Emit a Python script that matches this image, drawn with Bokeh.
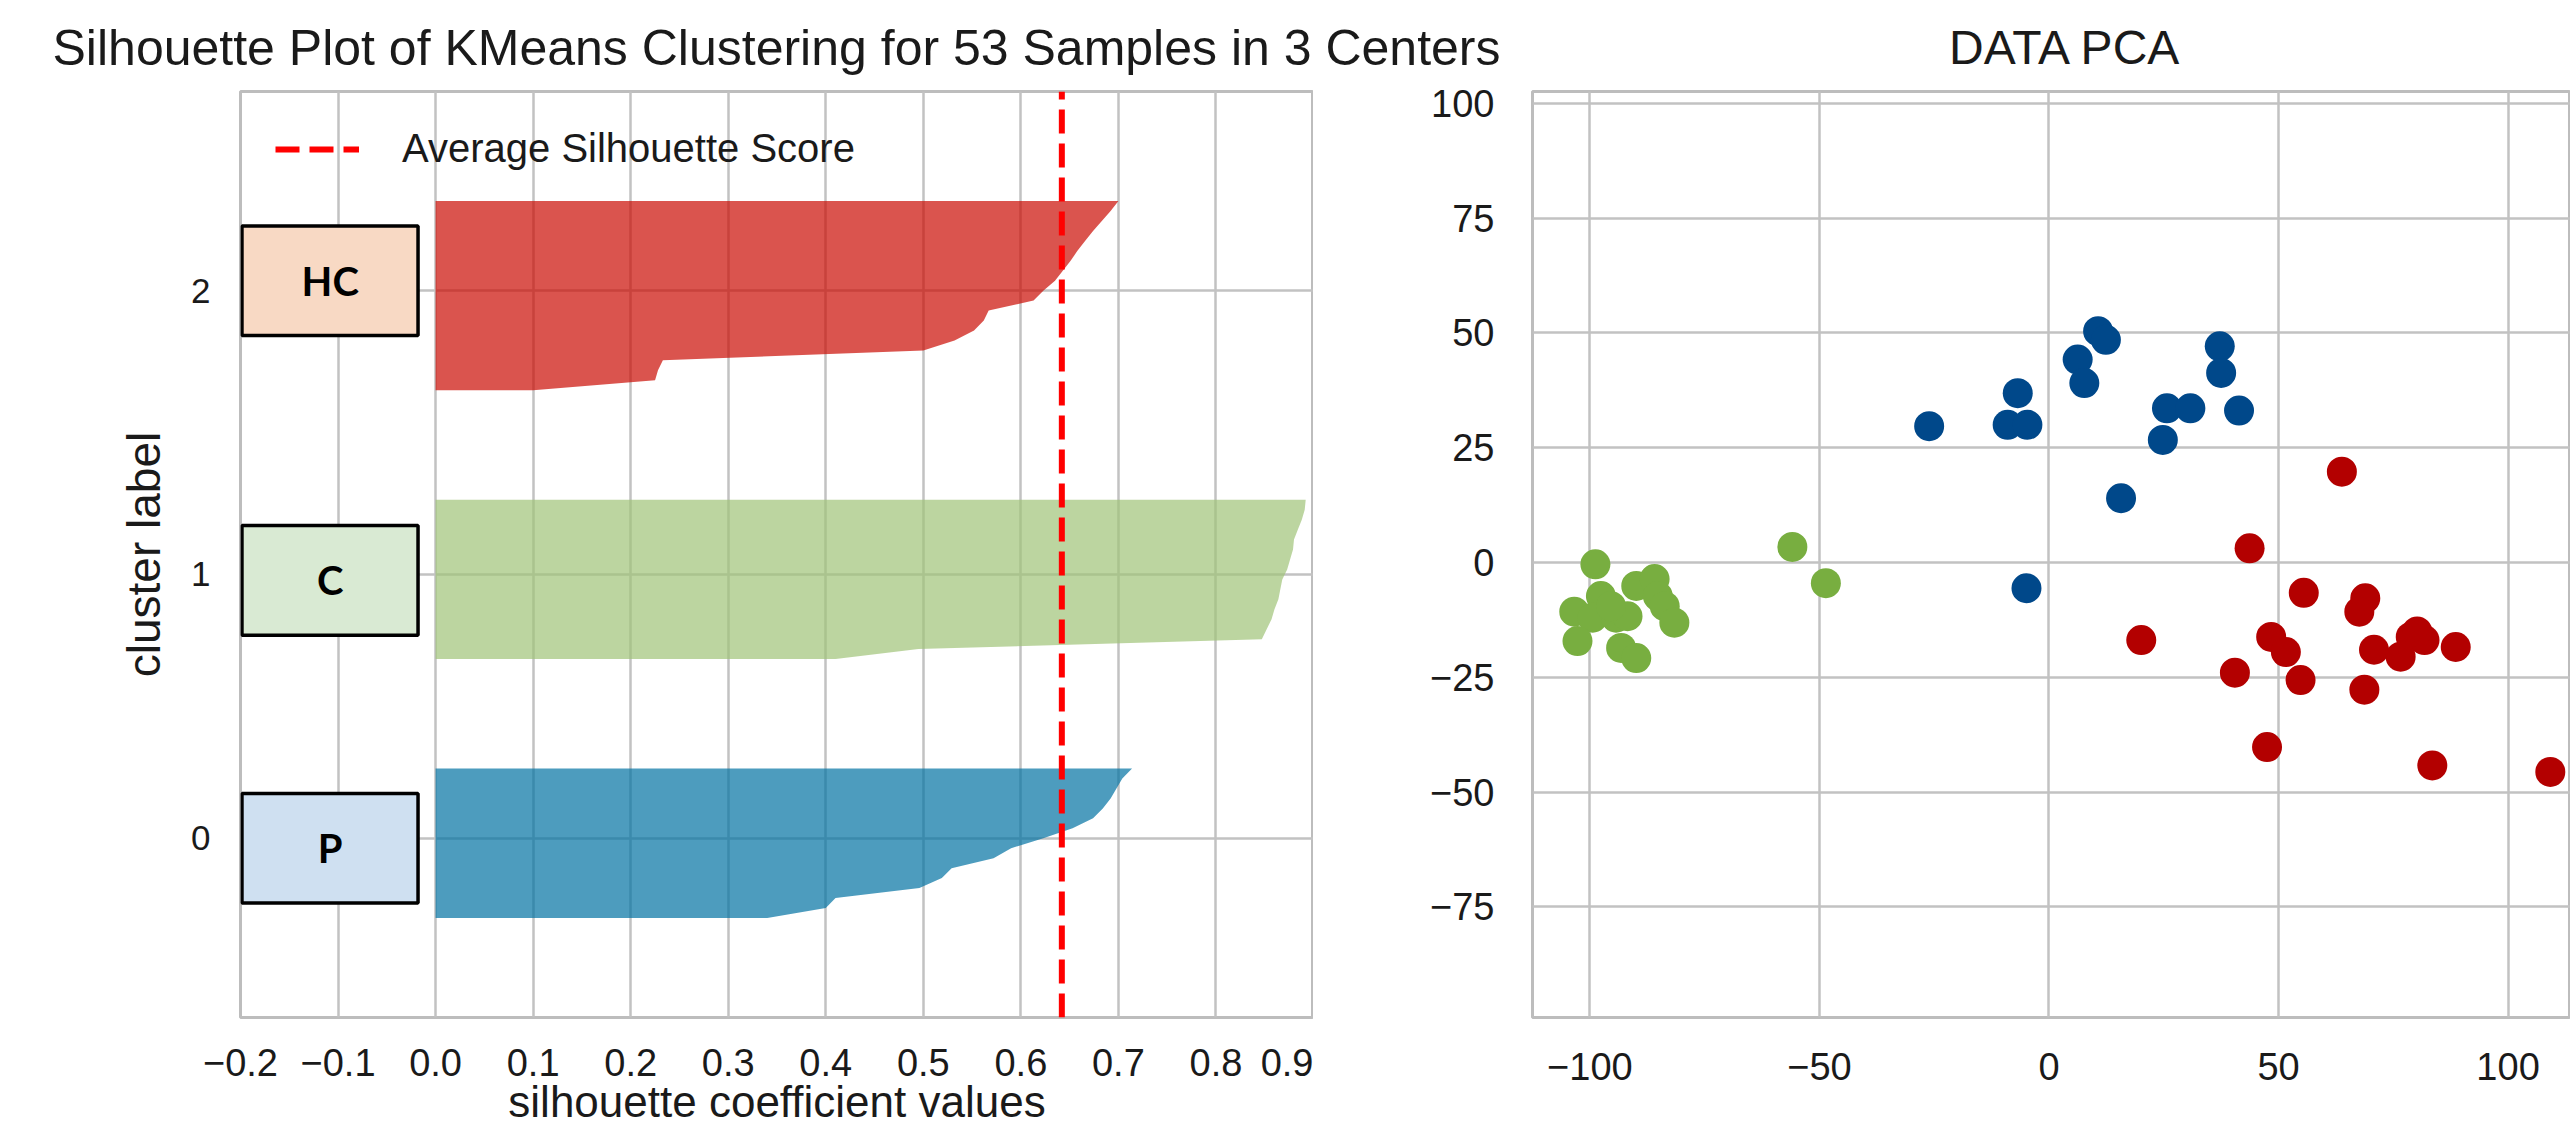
from bokeh.plotting import figure
from bokeh.models import Range1d, FixedTicker, CustomJSTickFormatter, Label
from bokeh.layouts import row, column
from bokeh.embed import file_html
from bokeh.resources import INLINE
from bokeh.core.properties import value

# ---------------- data ----------------
title_left = "Silhouette Plot of KMeans Clustering for 53 Samples in 3 Centers"
title_right = "DATA PCA"
cluster_labels = ["0", "1", "2"]
cluster_names = ["P", "C", "HC"]

# silhouette coefficients per cluster, sorted ascending
sil_cluster0 = [0.34, 0.40, 0.41, 0.496, 0.519, 0.529, 0.572, 0.59, 0.623, 0.653,
                0.674, 0.684, 0.692, 0.698, 0.704, 0.714]
sil_cluster1 = [0.41, 0.495, 0.847, 0.852, 0.857, 0.86, 0.864, 0.866, 0.868, 0.873,
                0.876, 0.879, 0.88, 0.884, 0.888, 0.891, 0.892]
sil_cluster2 = [0.10, 0.225, 0.228, 0.233, 0.50, 0.532, 0.552, 0.562, 0.567, 0.613,
                0.623, 0.635, 0.643, 0.651, 0.658, 0.666, 0.674, 0.683, 0.692, 0.70]
avg_score = 0.642

left_x_ticks = [-0.2, -0.1, 0.0, 0.1, 0.2, 0.3, 0.4, 0.5, 0.6, 0.7, 0.8, 0.9]
right_x_ticks = [-100, -50, 0, 50, 100]
right_y_ticks = [-75, -50, -25, 0, 25, 50, 75, 100]

# PCA projection
pca0_x = [10.7, 12.4, 6.25, 7.7, -6.8, -9.0, -4.7, 37.2, 37.5, 25.7, 30.8, 41.4, 24.8, 15.7, -4.9, -26.1]
pca0_y = [50.4, 48.5, 44.2, 39.1, 36.9, 30.0, 30.0, 47.1, 41.3, 33.6, 33.6, 33.1, 26.7, 14.0, -5.6, 29.7]
pca1_x = [-55.9, -48.6, -98.8, -97.6, -103.4, -99.4, -94.3, -91.8, -89.9, -85.9, -85.2, -83.7,
          -81.6, -102.7, -93.2, -89.9, -95.4]
pca1_y = [3.4, -4.5, -0.4, -7.3, -10.7, -12.0, -12.0, -11.7, -5.1, -3.6, -7.3, -9.5,
          -13.1, -17.1, -18.6, -20.8, -9.5]
pca2_x = [63.8, 43.7, 55.5, 68.9, 67.6, 20.1, 48.4, 51.6, 40.5, 54.8, 68.7, 70.8, 76.6, 78.8,
          81.8, 88.6, 47.5, 83.5, 109.2, 80.2]
pca2_y = [19.8, 3.1, -6.6, -7.8, -10.7, -16.9, -16.2, -19.5, -24.0, -25.6, -27.7, -19.0, -20.5,
          -16.2, -16.9, -18.4, -40.2, -44.2, -45.6, -15.0]

# ---------------- style ----------------
FONT = "Liberation Sans"
TXT = "#1a1a1a"
GRID = "#c2c2c2"
sil_colors = ["#0272a2", "#9fc377", "#ca0b03"]
box_colors = ["#cfe0f1", "#d9ead3", "#f8d9c4"]
box_dy = [-1.0, -0.6, 1.0]
pca_colors = ["#00488a", "#78ae40", "#b30000"]

TOTAL_W = 2570
TITLE_H = 79
PLOT_H = 1054
LEFT_W = 1313


def style_axes(p, tick_size):
    for ax in (p.xaxis, p.yaxis):
        ax.axis_line_color = None
        ax.major_tick_line_color = None
        ax.minor_tick_line_color = None
        ax.major_tick_out = 0
        ax.major_tick_in = 0
        ax.minor_tick_out = 0
        ax.minor_tick_in = 0
        ax.major_label_text_font = FONT
        ax.major_label_text_font_size = tick_size
        ax.major_label_text_color = TXT
        ax.axis_label_text_font = FONT
        ax.axis_label_text_font_style = "normal"
        ax.axis_label_text_color = TXT
    p.grid.grid_line_color = GRID
    p.grid.grid_line_width = 2.5
    p.outline_line_color = "#bdbdbd"
    p.outline_line_width = 3


# ---------------- titles (one strip spanning both plots) ----------------
pt = figure(width=TOTAL_W, height=TITLE_H, x_range=Range1d(0, TOTAL_W), y_range=Range1d(0, TITLE_H),
            x_axis_location=None, y_axis_location=None, min_border=0, title=None,
            output_backend="svg", toolbar_location=None)
pt.outline_line_color = None
pt.grid.visible = False
for txt, cx, fs in ((title_left, 776, "50px"), (title_right, 2065, "48px")):
    pt.add_layout(Label(x=cx, y=32, text=txt, text_align="center", text_baseline="alphabetic",
                        text_font=FONT, text_font_size=fs, text_color=TXT))

# ---------------- silhouette plot ----------------
clusters = [sil_cluster0, sil_cluster1, sil_cluster2]
y_lower = 10
tick_pos = []
spans = []
for vals in clusters:
    n = len(vals)
    spans.append(list(range(y_lower, y_lower + n)))
    tick_pos.append(y_lower + 0.5 * n)
    y_lower += n + 10
y_top = y_lower

p1 = figure(width=LEFT_W, height=PLOT_H, x_range=Range1d(-0.2, 0.9), y_range=Range1d(0, y_top),
            output_backend="svg", toolbar_location=None,
            min_border_left=240, min_border_right=0, min_border_top=12, min_border_bottom=116)
style_axes(p1, "38px")
p1.yaxis.major_label_text_font_size = "35px"

for vals, ys, col in zip(clusters, spans, sil_colors):
    p1.harea(x1=[0] * len(vals), x2=vals, y=ys, fill_color=col, fill_alpha=0.7)

p1.line(x=[avg_score, avg_score], y=[0, y_top], line_color="red", line_width=6,
        line_dash="24 10", legend_label="Average Silhouette Score")

p1.xaxis.ticker = FixedTicker(ticks=left_x_ticks)
p1.xaxis.formatter = CustomJSTickFormatter(code="return tick.toFixed(1).replace('-', '\u2212')")
p1.yaxis.ticker = FixedTicker(ticks=tick_pos)
p1.yaxis.formatter = CustomJSTickFormatter(args=dict(labels=cluster_labels), code="return labels[index]")
p1.xaxis.axis_label = "silhouette coefficient values"
p1.yaxis.axis_label = "cluster label"
p1.xaxis.axis_label_text_font_size = "44px"
p1.yaxis.axis_label_text_font_size = "46px"
p1.xaxis.major_label_standoff = 31
p1.xaxis.axis_label_standoff = -2
p1.yaxis.major_label_standoff = 30
p1.yaxis.axis_label_standoff = 18

# annotation boxes
bx_bottom = [t + d - 5.5 for t, d in zip(tick_pos, box_dy)]
bx_top = [t + d + 5.5 for t, d in zip(tick_pos, box_dy)]
bx_mid = [t + d for t, d in zip(tick_pos, box_dy)]
p1.quad(left=-0.1985, right=-0.018, bottom=bx_bottom, top=bx_top,
        fill_color=box_colors, line_color="black", line_width=3.5)
p1.text(x=[-0.108] * 3, y=bx_mid, text=cluster_names, text_align="center", text_baseline="middle",
        text_font=value("Lato"), text_font_style="bold", text_font_size="40px", text_color="black")

lg = p1.legend[0]
lg.location = "top_left"
lg.margin = 35
lg.padding = 10
lg.glyph_width = 84
lg.glyph_height = 40
lg.label_standoff = 43
lg.label_text_font = FONT
lg.label_text_font_size = "40px"
lg.label_text_color = TXT
lg.border_line_color = None
lg.background_fill_alpha = 0

# ---------------- PCA scatter ----------------
p2 = figure(width=TOTAL_W - LEFT_W, height=PLOT_H, x_range=Range1d(-112.5, 113.6),
            y_range=Range1d(-99.1, 102.6),
            output_backend="svg", toolbar_location=None,
            min_border_left=219, min_border_right=0, min_border_top=12, min_border_bottom=116)
style_axes(p2, "38px")
p2.xaxis.ticker = FixedTicker(ticks=right_x_ticks)
p2.yaxis.ticker = FixedTicker(ticks=right_y_ticks)
p2.xaxis.formatter = CustomJSTickFormatter(code="return tick.toFixed(0).replace('-', '\u2212')")
p2.yaxis.formatter = CustomJSTickFormatter(code="return tick.toFixed(0).replace('-', '\u2212')")
p2.xaxis.major_label_standoff = 35
p2.yaxis.major_label_standoff = 38

for xs, ys, col in zip([pca0_x, pca1_x, pca2_x], [pca0_y, pca1_y, pca2_y], pca_colors):
    p2.scatter(x=xs, y=ys, size=30, fill_color=col, line_color=None)

layout = column(pt, row(p1, p2))
open("out.html", "w").write(file_html(layout, INLINE))
